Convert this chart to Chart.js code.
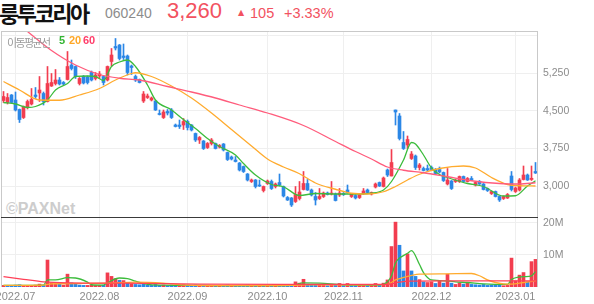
<!DOCTYPE html>
<html>
<head>
<meta charset="utf-8">
<script src="https://cdn.jsdelivr.net/npm/chart.js@4.4.1/dist/chart.umd.min.js"></script>
<style>
  body { margin: 0; width: 594px; height: 304px; overflow: hidden; background: #fff; position: relative; font-family: 'Liberation Sans', Arial, sans-serif; }
  .t { position: absolute; white-space: nowrap; line-height: 1; }
  canvas { position: absolute; left: 0; }
  #priceChart { top: 31px; }
  #volumeChart { top: 217px; }
</style>
</head>
<body>
<div class="t" style="left:-1px;top:-4px;font:bold 22px 'Noto Sans CJK KR';letter-spacing:-2.5px;color:#111">룽투코리아</div>
<div class="t" style="left:105px;top:5px;font:14px 'Liberation Sans';color:#8c8c8c">060240</div>
<div class="t" style="left:167px;top:-2px;font:22px 'Liberation Sans';color:#f2525f">3,260</div>
<div class="t" style="left:238px;top:8px;font:8px 'DejaVu Sans';color:#f2525f">▲</div>
<div class="t" style="left:250px;top:5px;font:14.5px 'Liberation Sans';color:#f2525f">105</div>
<div class="t" style="left:284px;top:5px;font:14.5px 'Liberation Sans';color:#f2525f">+3.33%</div>

<div class="t" style="left:6px;top:200px;font:bold 16px 'Liberation Sans';color:#cdcdcd">©PAXNet</div>

<canvas id="priceChart" width="594" height="186"></canvas>
<canvas id="volumeChart" width="594" height="87"></canvas>

<div class="t" style="left:7px;top:34px;font:11px 'Noto Sans CJK KR';letter-spacing:-1.6px;color:#9a9a9a">이동평균선</div>
<div class="t" style="left:59px;top:34px;font:bold 11px 'Liberation Sans';color:#33b533">5</div>
<div class="t" style="left:69px;top:34px;font:bold 11px 'Liberation Sans';color:#ffa726">20</div>
<div class="t" style="left:83px;top:34px;font:bold 11px 'Liberation Sans';color:#ff3d6a">60</div>

<script>
// daily candles, 2022-06-28 .. 2023-01-09 (134 trading days)
const opens = [4710,4670,4820,4720,4530,4370,4570,4640,4820,4860, 4850,4690,5000,5050,5120,5070,5130,5420,5390,5050,
  5190,5180,5270,5150,5200,5190,5120,5490,5790,5820, 5600,5600,5400,5190,5130,4700,4770,4720,4700,4450,
  4370,4490,4520,4220,4220,4220,4290,4220,4050,3920, 3900,3770,3850,3850,3780,3840,3670,3580,3520,3460,
  3390,3240,3090,3120,3020,2910,3050,3090,2990,3070, 2990,2770,2760,2690,2750,2930,3050,2920,2790,2750,
  2790,2860,2840,2840,2820,2850,2920,2790,2810,2770, 2850,2920,2840,2980,3070,2990,3320,3200,4520,4400,
  3870,3820,3550,3600,3370,3350,3350,3370,3320,3330, 3270,3040,3100,3090,3090,3190,3090,3150,3020,3090,
  3040,2950,2850,2890,2790,2750,2760,3200,2890,2920, 3130,3220,3130,3290];
const highs = [4890,4850,4830,4880,4540,4600,4720,4950,4970,5190, 4880,5390,5250,5330,5170,5090,5690,5520,5400,5170,
  5210,5200,5300,5270,5290,5210,5400,5750,5950,5830, 5840,5620,5420,5220,5140,4890,4840,4780,4710,4520,
  4520,4530,4550,4240,4320,4350,4320,4230,4060,3990, 3910,3870,3950,3860,3830,3850,3680,3600,3590,3470,
  3400,3250,3140,3130,3120,3000,3120,3120,3060,3240, 3000,2790,2770,2990,3090,3290,3130,2940,2870,2950,
  2880,2880,3090,2860,2950,2870,3020,2850,2830,2830, 2950,2940,2880,3060,3080,3180,3340,3730,4520,4450,
  4090,4000,3690,3620,3450,3380,3420,3400,3350,3380, 3280,3350,3110,3140,3200,3200,3170,3190,3080,3110,
  3050,2960,2900,2900,2800,2800,2850,3290,2980,3150, 3400,3240,3400,3470];
const lows = [4670,4640,4660,4500,4270,4350,4540,4620,4750,4690, 4620,4680,4990,5020,5020,5020,5120,5320,5150,5020,
  5040,5040,5100,5120,5150,5020,5100,5400,5720,5520, 5530,5220,5230,5090,5060,4670,4750,4700,4510,4420,
  4350,4420,4350,4180,4150,4130,4120,4100,3890,3850, 3730,3750,3820,3740,3760,3700,3510,3520,3480,3300,
  3270,3100,3070,2960,2990,2880,3030,2930,2960,3000, 2780,2710,2590,2670,2720,2920,2910,2800,2620,2730,
  2770,2820,2820,2700,2790,2810,2860,2770,2740,2750, 2830,2850,2820,2960,2990,2980,3190,3200,4220,3920,
  3730,3750,3530,3330,3320,3300,3290,3320,3230,3260, 3090,3020,2930,3070,3070,3080,3080,3110,3000,3030,
  2920,2890,2830,2780,2690,2730,2750,2900,2870,2900, 3120,3110,3110,3250];
const closes = [4790,4770,4670,4520,4330,4590,4690,4730,4790,4920, 4690,5050,5070,5120,5040,5040,5390,5350,5190,5150,
  5060,5070,5120,5220,5240,5070,5390,5620,5760,5550, 5570,5270,5370,5120,5070,4840,4800,4760,4520,4430,
  4480,4460,4370,4190,4190,4290,4170,4120,3920,3970, 3750,3850,3920,3750,3810,3720,3530,3540,3490,3320,
  3290,3120,3120,2990,3000,2990,3100,2950,3040,3020, 2800,2720,2620,2830,2880,3050,2920,2820,2720,2790,
  2860,2830,2860,2710,2860,2830,2870,2840,2760,2820, 2900,2870,2870,3040,3000,3160,3220,3470,4480,3950,
  3750,3930,3640,3370,3420,3310,3320,3330,3250,3280, 3110,3120,2950,3120,3190,3090,3150,3120,3070,3040,
  2930,2910,2890,2790,2720,2790,2830,2930,2960,3120, 3220,3120,3155,3260];
// volume in millions of shares
const volumes = [0.5,0.4,0.4,0.6,0.7,0.5,0.4,0.5,0.6,0.9, 0.6,8.4,1.3,1.0,0.9,0.6,4.0,1.3,1.0,0.6,
  0.5,0.5,0.6,0.5,0.5,0.6,4.4,3.3,2.6,2.1, 2.0,1.3,1.0,0.8,0.7,1.0,0.6,0.5,0.8,0.5,
  0.6,0.4,0.6,0.5,0.5,0.7,0.5,0.4,0.6,0.4, 0.5,0.4,0.4,0.4,0.3,0.4,0.6,0.4,0.3,0.5,
  0.4,0.6,0.4,0.5,0.3,0.4,0.4,0.5,0.4,0.6, 0.5,0.4,0.6,1.6,1.2,2.4,0.9,0.6,0.7,0.6,
  0.5,0.4,0.7,0.6,1.1,0.5,1.1,0.5,0.5,0.5, 0.7,0.5,0.5,1.1,0.6,1.2,2.2,12.6,20.2,13.0,
  5.0,10.3,5.0,3.3,2.3,1.6,1.4,1.6,1.1,1.9, 1.2,4.0,1.2,0.8,1.3,0.9,1.4,0.8,0.7,0.6,
  0.8,0.5,0.6,0.7,0.8,0.4,0.5,9.0,1.9,3.7, 4.5,1.6,7.9,8.6];

// moving averages: [day index, value]
const ma5 = [[0,4670],[3,4640],[6,4570],[8,4590],[11,4720],[13,4920],[16,5050],[18,5190],[21,5200],[23,5190],[25,5110],
  [27,5390],[29,5480],[31,5520],[33,5390],[36,5020],[38,4720],[42,4520],[45,4330],[48,4150],[51,3950],[54,3790],
  [58,3620],[60,3450],[63,3220],[67,3030],[70,2985],[74,2810],[78,2850],[83,2840],[88,2840],[92,2855],[95,2920],
  [97,3090],[100,3520],[102,3870],[103,3840],[105,3620],[107,3360],[109,3230],[111,3170],[116,3050],[120,2990],
  [125,2800],[128,2805],[131,3000],[133,3105]];
const ma20 = [[0,5090],[4,4920],[9,4720],[14,4715],[19,4820],[24,4950],[28,5120],[32,5250],[33,5265],[37,5190],
  [42,5000],[47,4760],[52,4460],[57,4130],[62,3800],[66,3540],[70,3380],[74,3245],[78,3060],[83,2935],[87,2855],
  [91,2840],[95,2885],[98,2990],[101,3120],[104,3235],[109,3350],[115,3400],[118,3360],[122,3170],[126,3030],
  [129,3005],[133,3000]];
const ma60 = [[0,6470],[6,6090],[12,5710],[18,5420],[24,5230],[29,5155],[34,5120],[41,4990],[47,4880],[53,4760],
  [59,4620],[66,4460],[75,4210],[83,3890],[88,3690],[92,3540],[96,3380],[100,3315],[105,3265],[111,3185],
  [117,3105],[124,3050],[129,3040],[133,3065]];
const volMa5 = [[0,0.5],[10,0.6],[11,2.2],[13,2.2],[16,2.9],[18,2.8],[21,1.5],[22,0.7],[25,0.6],[26,1.3],[29,2.8],
  [31,2.6],[33,1.8],[36,0.8],[40,0.6],[50,0.5],[60,0.4],[72,0.5],[75,1.3],[79,1.2],[85,0.7],[92,0.6],[95,0.9],
  [97,3.5],[98,7.5],[99,9.0],[101,10.5],[102,11.3],[104,7.0],[105,4.5],[107,2.2],[111,1.9],[113,1.6],[116,1.4],
  [120,1.0],[126,0.8],[127,2.3],[130,3.2],[132,3.5],[133,4.8]];
const volMa20 = [[0,0.5],[10,0.6],[12,1.0],[20,1.1],[26,1.2],[33,1.5],[40,1.2],[46,0.6],[60,0.4],[72,0.5],[76,0.7],
  [90,0.7],[96,0.8],[97,1.4],[98,2.2],[99,2.6],[104,4.0],[110,4.1],[117,4.2],[119,3.5],[121,2.2],[123,1.4],
  [125,1.0],[127,0.9],[130,1.4],[133,1.9]];
const volMa60 = [[0,3.2],[5,2.4],[10,1.6],[16,1.3],[30,1.2],[49,0.9],[70,0.8],[96,0.8],[97,1.0],[98,1.3],[99,1.5],
  [101,1.8],[110,1.9],[133,1.9]];

const monthIdx = [3, 24, 46, 66, 85, 107, 128];
const monthLabels = ['2022.07', '2022.08', '2022.09', '2022.10', '2022.11', '2022.12', '2023.01'];
const priceTicks = [3000, 3750, 4500, 5250, 6000];
const volumeTicks = [10, 20];

const UP = '#f23d4f', DOWN = '#2b87e6';
const GREEN = '#3cbc3c', ORANGE = '#ffab2e', PINK = '#ff5c7c';
const days = closes.map((c, i) => i);
const candleColors = closes.map((c, i) => c >= opens[i] ? UP : DOWN);
const volumeColors = closes.map((c, i) => c >= (i ? closes[i - 1] : opens[i]) ? UP : DOWN);
const toPoints = arr => arr.map(p => ({ x: p[0], y: p[1] }));

const frame = {
  id: 'frame',
  afterDraw(chart, args, opts) {
    const { ctx, chartArea: a } = chart;
    ctx.save();
    ctx.lineWidth = 1;
    ctx.strokeStyle = '#c9c9c9';
    ctx.beginPath();
    ctx.moveTo(a.left - 0.5, a.top); ctx.lineTo(a.left - 0.5, a.bottom);
    ctx.moveTo(a.right + 0.5, a.top); ctx.lineTo(a.right + 0.5, a.bottom);
    ctx.stroke();
    ctx.strokeStyle = opts.topColor;
    ctx.beginPath();
    ctx.moveTo(a.left - 1, a.top + 0.5); ctx.lineTo(a.right + 1, a.top + 0.5);
    ctx.stroke();
    ctx.restore();
  }
};

function xAxis(showLabels) {
  return {
    type: 'linear', min: -0.375, max: 133.375, offset: false,
    afterBuildTicks: s => { s.ticks = monthIdx.map(v => ({ value: v })); },
    afterFit: s => { s.height = showLabels ? 17 : 0; s.paddingLeft = 0; s.paddingRight = 0; },
    grid: { color: '#efefef', drawTicks: false, offset: false },
    border: { display: false },
    ticks: {
      display: showLabels, autoSkip: false, maxRotation: 0, padding: 3,
      color: '#8c8c8c', font: { family: 'Liberation Sans', size: 11 },
      callback: (v, i) => monthLabels[i]
    }
  };
}

function yAxis(min, max, ticks, fmt) {
  return {
    position: 'right', min: min, max: max,
    afterBuildTicks: s => { s.ticks = ticks.map(v => ({ value: v })); },
    afterFit: s => { s.width = 57; s.paddingTop = 0; s.paddingBottom = 0; },
    grid: { color: '#efefef', drawTicks: false },
    border: { display: false },
    ticks: { padding: 6, color: '#8c8c8c', font: { family: 'Liberation Sans', size: 10.5 }, callback: fmt }
  };
}

function maLine(points, color) {
  return {
    type: 'line', data: toPoints(points), borderColor: color, borderWidth: 1.3,
    pointRadius: 0, cubicInterpolationMode: 'monotone', order: 0
  };
}

const common = {
  responsive: false, animation: false, events: [],
  layout: { padding: { left: 2, right: 0, top: 0, bottom: 0 } },
  plugins: { legend: { display: false }, tooltip: { enabled: false } }
};

new Chart(document.getElementById('priceChart'), {
  type: 'bar',
  data: {
    datasets: [
      maLine(ma60, PINK),
      maLine(ma20, ORANGE),
      maLine(ma5, GREEN),
      {
        data: days.map(i => ({ x: i, y: [opens[i], closes[i]] })),
        backgroundColor: candleColors, barThickness: 3, minBarLength: 1, grouped: false, order: 1
      },
      {
        data: days.map(i => ({ x: i, y: [lows[i], highs[i]] })),
        backgroundColor: candleColors, barThickness: 1, grouped: false, order: 2
      }
    ]
  },
  options: Object.assign({}, common, {
    scales: {
      x: xAxis(false),
      y: yAxis(2380, 6100, priceTicks, v => v >= 6000 ? '' : v.toLocaleString('en-US'))
    },
    plugins: Object.assign({}, common.plugins, { frame: { topColor: '#c9c9c9' } })
  }),
  plugins: [frame]
});

new Chart(document.getElementById('volumeChart'), {
  type: 'bar',
  data: {
    datasets: [
      maLine(volMa60, '#ff4057'),
      maLine(volMa20, ORANGE),
      maLine(volMa5, GREEN),
      {
        data: days.map(i => ({ x: i, y: volumes[i] })),
        backgroundColor: volumeColors, barThickness: 3, grouped: false, order: 1
      }
    ]
  },
  options: Object.assign({}, common, {
    scales: {
      x: xAxis(true),
      y: yAxis(0, 21.8, volumeTicks, v => v + 'M')
    },
    plugins: Object.assign({}, common.plugins, { frame: { topColor: '#3a3a3a' } })
  }),
  plugins: [frame]
});
</script>
</body>
</html>
